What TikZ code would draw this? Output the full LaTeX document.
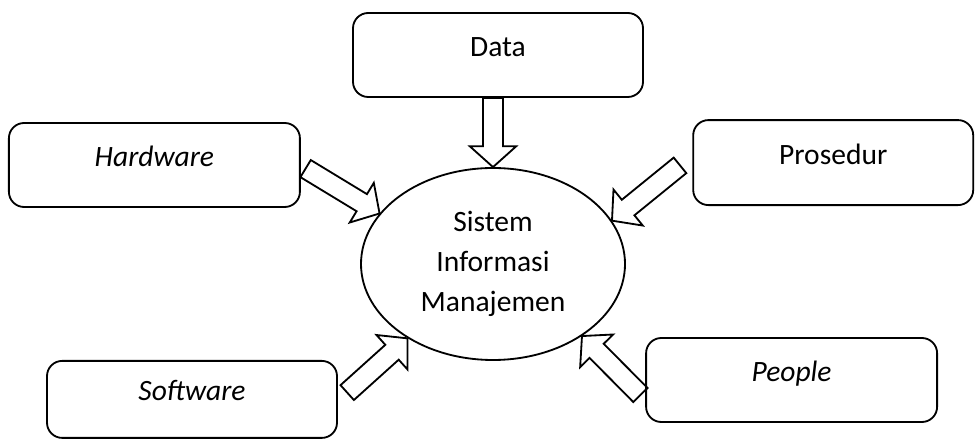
\documentclass[tikz,border=0pt]{standalone}
\usepackage{fontspec}
\setmainfont{Carlito}
\usetikzlibrary{calc,shapes.geometric}
\tikzset{
  bx/.style={rectangle,rounded corners=0.38cm,draw=black,line width=1.3pt,
    minimum width=7.25cm,minimum height=2.1cm,text height=.7em,text depth=.48em,
    font=\fontsize{21}{28.45}\selectfont},
  el/.style={ellipse,draw=black,line width=1.3pt,minimum width=6.6cm,minimum height=4.8cm,
    align=center,inner sep=0pt,font=\fontsize{21}{28.45}\selectfont},
  % a hollow block arrow, laid along the line from its back end to its tip
  blk/.style={draw=black,line width=1.3pt,line join=miter,to path={
    let \p1=($(\tikztotarget)-(\tikztostart)$),\n1={atan2(\y1,\x1)},\n2={veclen(\x1,\y1)} in
    [shift={(\tikztostart)},rotate=\n1]
    (0pt,-0.25cm) -- ({\n2-0.52cm},-0.25cm) -- ({\n2-0.52cm},-0.58cm) -- (\n2,0pt)
    -- ({\n2-0.52cm},0.58cm) -- ({\n2-0.52cm},0.25cm) -- (0pt,0.25cm) -- cycle}},
}
\begin{document}
\begin{tikzpicture}
\useasboundingbox (0,0) rectangle (24.4,10.975);
% ---------------- the five parts
\node[bx] (data) at (12.45,9.6) {Data};
\node[bx,minimum width=7.275cm] (hw) at (3.86,6.85) {\textit{Hardware}};
\node[bx,minimum width=7cm,minimum height=2.125cm] (pro) at (20.83,6.91) {Prosedur};
\node[bx,minimum height=1.925cm] (sw) at (4.8,0.99) {\textit{Software}};
\node[bx,minimum width=7.275cm] (ppl) at (19.79,1.475) {\textit{People}};
% ---------------- the system in the middle
\node[el] (sim) at (12.325,4.375) {Sistem\\Informasi\\Manajemen};
% ---------------- block arrows into the system
\coordinate (hwb) at (7.64,6.76);
\coordinate (prob) at (17.0,6.84);
\coordinate (swb) at (8.68,1.16);
\coordinate (pplb) at (16.01,1.1);
\draw[blk] (sim.north |- data.south) to (sim.north);
\draw[blk] (hwb) to (sim.156);
\draw[blk] (prob) to (sim.20);
\draw[blk] (swb) to (sim.221);
\draw[blk] (pplb) to (sim.321);
\end{tikzpicture}
\end{document}
